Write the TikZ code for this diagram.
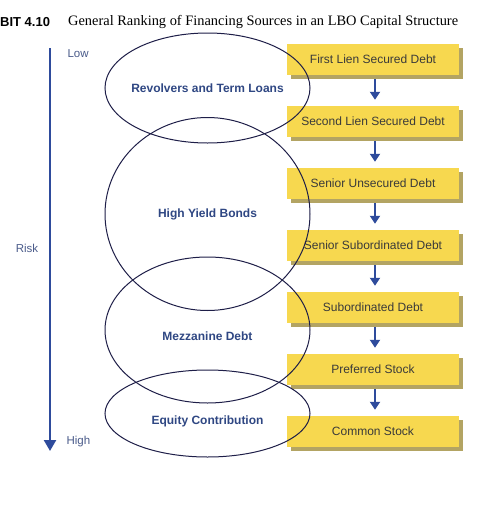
\documentclass[tikz,border=0pt]{standalone}
\usepackage{fontspec}
\setmainfont{Liberation Serif}
\setsansfont{Liberation Sans}
\usetikzlibrary{shapes.geometric,arrows.meta,shadows}
\definecolor{boxc}{HTML}{F7D84F}
\definecolor{shadowc}{HTML}{B3A463}
\definecolor{arrowc}{HTML}{2E4B9C}
\definecolor{elltext}{HTML}{2F4783}
\definecolor{boxtext}{HTML}{3A3A3A}
\definecolor{ellline}{HTML}{1E1E48}
\definecolor{risktext}{HTML}{4A5B8A}
\tikzset{
  srcbox/.style={draw=none, fill=boxc, minimum width=172pt, minimum height=31pt, inner sep=0pt,
    font=\sffamily\fontsize{12}{14}\selectfont, text=boxtext,
    drop shadow={shadow xshift=4pt, shadow yshift=-4pt, opacity=1, fill=shadowc}},
  flowarrow/.style={draw=arrowc, line width=2pt, -{Triangle[width=10pt,length=8pt]},
    shorten <=4pt, shorten >=6pt},
  oval/.style={draw=ellline, line width=1pt, ellipse, minimum width=205pt, inner sep=0pt},
  ovaltext/.style={font=\sffamily\bfseries\fontsize{12}{14}\selectfont, text=elltext},
  risklabel/.style={font=\sffamily\fontsize{11.5}{13}\selectfont, text=risktext},
}
\begin{document}
\begin{tikzpicture}[x=1pt,y=-1pt]
\useasboundingbox (0,0) rectangle (500,520);
\fill[white] (0,0) rectangle (500,520);

% title
\node[anchor=west, inner sep=0pt, font=\sffamily\bfseries\fontsize{13}{15}\selectfont] (exh) at (0,22) {BIT 4.10};
\node[anchor=west, inner sep=0pt, font=\fontsize{14.4}{17}\selectfont] (title) at (68,22) {General Ranking of Financing Sources in an LBO Capital Structure};

% risk axis
\coordinate (rtop) at (50,48);
\coordinate (rbot) at (50,451);
\draw[draw=arrowc, line width=2.3pt, -{Triangle[width=12pt,length=11pt]}] (rtop) -- (rbot);
\node[risklabel, anchor=west] (low) at (64,54) {Low};
\node[risklabel, anchor=west] (high) at (63,442) {High};
\node[risklabel] (risk) at (27,248) {Risk};

% boxes
\node[srcbox] (b1) at (373,59.5) {First Lien Secured Debt};
\node[srcbox] (b2) at (373,121.5) {Second Lien Secured Debt};
\node[srcbox] (b3) at (373,183.5) {Senior Unsecured Debt};
\node[srcbox] (b4) at (373,245.5) {Senior Subordinated Debt};
\node[srcbox] (b5) at (373,307.5) {Subordinated Debt};
\node[srcbox] (b6) at (373,369.5) {Preferred Stock};
\node[srcbox] (b7) at (373,431.5) {Common Stock};

\foreach \a/\b in {b1/b2,b2/b3,b3/b4,b4/b5,b5/b6,b6/b7}
  \draw[flowarrow] ([xshift=2pt]\a.south) -- ([xshift=2pt]\b.north);

% ellipses
\node[oval, minimum height=110pt] (e1) at (207.5,88) {};
\node[oval, minimum height=193pt] (e2) at (207.5,214) {};
\node[oval, minimum height=146pt] (e3) at (207.5,330) {};
\node[oval, minimum height=87pt] (e4) at (207.5,413.5) {};

\node[ovaltext] (t1) at (207.5,88) {Revolvers and Term Loans};
\node[ovaltext] (t2) at (207.5,214) {High Yield Bonds};
\node[ovaltext] (t3) at (207.5,336) {Mezzanine Debt};
\node[ovaltext] (t4) at (207.5,421) {Equity Contribution};
\end{tikzpicture}
\end{document}
